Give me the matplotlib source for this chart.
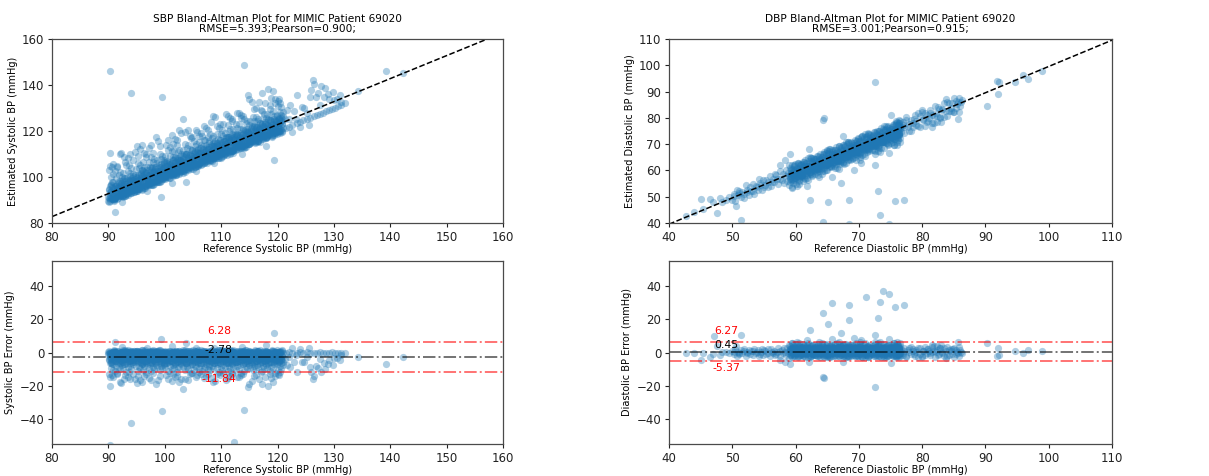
import numpy as np
import matplotlib
matplotlib.use("Agg")
import matplotlib.pyplot as plt

# ---------------- SBP data (reference BP and reference - estimate) ----------------
sbp_core_ref = [
    90.0,90.1,90.3,90.2,90.4,90.1,90.5,90.6,90.8,90.7,90.9,90.6,
    91.0,91.2,91.1,91.3,91.4,91.2,91.5,91.7,91.6,91.8,91.9,91.6,
    92.0,92.1,92.3,92.2,92.4,92.1,92.5,92.6,92.8,92.7,92.9,92.6,
    93.0,93.2,93.1,93.3,93.4,93.2,93.5,93.7,93.6,93.8,93.9,93.6,
    94.0,94.1,94.3,94.2,94.4,94.1,94.5,94.6,94.8,94.7,94.9,94.6,
    95.0,95.2,95.1,95.3,95.4,95.2,95.5,95.7,95.6,95.8,95.9,95.6,
    96.0,96.1,96.3,96.2,96.4,96.1,96.5,96.6,96.8,96.7,96.9,96.6,
    97.0,97.2,97.1,97.3,97.4,97.2,97.5,97.7,97.6,97.8,97.9,97.6,
    98.0,98.1,98.3,98.2,98.4,98.1,98.5,98.6,98.8,98.7,98.9,98.6,
    99.0,99.2,99.1,99.3,99.4,99.2,99.5,99.7,99.6,99.8,99.9,99.6,
    100.0,100.1,100.3,100.2,100.4,100.1,100.5,100.6,100.8,100.7,100.9,100.6,
    101.0,101.2,101.1,101.3,101.4,101.2,101.5,101.7,101.6,101.8,101.9,101.6,
    102.0,102.1,102.3,102.2,102.4,102.1,102.5,102.6,102.8,102.7,102.9,102.6,
    103.0,103.2,103.1,103.3,103.4,103.2,103.5,103.7,103.6,103.8,103.9,103.6,
    104.0,104.1,104.3,104.2,104.4,104.1,104.5,104.6,104.8,104.7,104.9,104.6,
    105.0,105.2,105.1,105.3,105.4,105.2,105.5,105.7,105.6,105.8,105.9,105.6,
    106.0,106.1,106.3,106.2,106.4,106.1,106.5,106.6,106.8,106.7,106.9,106.6,
    107.0,107.2,107.1,107.3,107.4,107.2,107.5,107.7,107.6,107.8,107.9,107.6,
    108.0,108.1,108.3,108.2,108.4,108.1,108.5,108.6,108.8,108.7,108.9,108.6,
    109.0,109.2,109.1,109.3,109.4,109.2,109.5,109.7,109.6,109.8,109.9,109.6,
    110.0,110.1,110.3,110.2,110.4,110.1,110.5,110.6,110.8,110.7,110.9,110.6,
    111.0,111.2,111.1,111.3,111.4,111.2,111.5,111.7,111.6,111.8,111.9,111.6,
    112.0,112.1,112.3,112.2,112.4,112.1,112.5,112.6,112.8,112.7,112.9,112.6,
    113.0,113.2,113.1,113.3,113.4,113.2,113.5,113.7,113.6,113.8,113.9,113.6,
    114.0,114.1,114.3,114.2,114.4,114.1,114.5,114.6,114.8,114.7,114.9,114.6,
    115.0,115.2,115.1,115.3,115.4,115.2,115.5,115.7,115.6,115.8,115.9,115.6,
    116.0,116.1,116.3,116.2,116.4,116.1,116.5,116.6,116.8,116.7,116.9,116.6,
    117.0,117.2,117.1,117.3,117.4,117.2,117.5,117.7,117.6,117.8,117.9,117.6,
    118.0,118.1,118.3,118.2,118.4,118.1,118.5,118.6,118.8,118.7,118.9,118.6,
    119.0,119.2,119.1,119.3,119.4,119.2,119.5,119.7,119.6,119.8,119.9,119.6,
    120.0,120.1,120.3,120.2,120.4,120.1,120.5,120.6,120.8,120.7,120.9,120.6,
]
sbp_core_diff = [
    0.4,-0.6,-3.2,-6.1,-9.5,-12.8,-0.4,-1.8,-4.5,-7.2,-10.3,0.3,
    0.7,0.4,-2.4,-4.9,-8.2,-11.4,-0.1,-1.1,-3.6,-5.8,-8.9,-13.2,
    0.2,-0.2,-2.9,-5.4,-7.6,-10.1,0.6,0.8,-1.6,-4.1,-6.7,-9.3,
    1.4,-1.3,-3.8,-6.4,-9.0,0.6,0.5,-0.7,-2.7,-5.0,-7.9,-11.6,
    0.8,0.1,-2.1,-4.6,-6.9,-9.8,1.2,-1.5,-3.4,-6.0,-8.4,-0.4,
    0.0,-0.9,-3.0,-5.6,-8.6,-11.0,0.6,0.5,-2.3,-4.3,-7.0,-9.6,
    1.5,-1.6,-3.9,-6.3,-8.0,-10.4,0.3,-0.3,-2.6,-5.1,-7.3,-12.0,
    0.6,0.2,-2.0,-4.8,-7.1,-9.2,1.0,-1.2,-3.5,-5.9,-8.7,-10.9,
    0.1,-0.5,-2.8,-5.3,-7.8,-9.9,0.7,0.7,-1.9,-4.0,-6.5,-8.8,
    1.3,-1.4,-3.7,-6.2,-8.3,-10.6,0.4,0.0,-2.5,-4.7,-7.4,-9.4,
    0.8,0.3,-2.2,-4.5,-6.6,-9.0,-0.2,-1.0,-3.3,-5.7,-8.1,-11.3,
    0.2,-0.4,-3.1,-5.0,-7.5,-10.2,0.5,0.6,-1.7,-4.2,-6.8,-9.5,
    -0.4,-1.7,-3.6,-6.0,-8.5,-11.8,0.8,-0.1,-2.4,-4.9,-7.2,-9.0,
    0.4,0.4,-2.0,-4.4,-6.4,-8.6,1.1,-1.3,-3.8,-6.1,-8.9,-10.7,
    0.7,-0.8,-2.9,-5.5,-7.7,-9.7,0.0,0.2,-2.2,-4.6,-6.9,-12.4,
    -0.3,-1.1,-3.4,-5.8,-8.0,-10.5,0.6,0.9,-1.5,-3.9,-6.3,-8.7,
    0.3,0.0,-2.6,-4.7,-7.3,-9.3,1.4,-1.9,-4.0,-6.6,-9.1,-11.1,
    0.8,0.5,-1.8,-4.3,-6.7,-8.9,0.1,-0.6,-3.0,-5.4,-7.9,-10.0,
    -0.1,-1.0,-3.5,-5.9,-8.4,-10.8,0.5,0.3,-2.1,-4.5,-6.6,-9.2,
    0.6,0.1,-2.3,-4.8,-7.0,-9.5,1.3,-1.6,-3.9,-6.2,-8.6,-11.5,
    0.2,-0.3,-2.7,-5.2,-7.6,-10.3,0.7,0.7,-1.4,-3.8,-6.0,-8.5,
    1.5,-1.2,-3.6,-6.1,-8.8,-11.2,0.4,0.0,-2.5,-4.4,-6.9,-9.4,
    0.8,0.6,-1.9,-4.1,-6.5,-8.8,-0.2,-0.9,-3.2,-5.6,-8.2,-10.6,
    0.1,-0.5,-2.8,-5.1,-7.4,-9.9,0.6,0.4,-2.0,-4.7,-7.1,-12.1,
    1.2,-1.5,-3.7,-6.3,-8.9,-10.9,0.3,-0.2,-2.6,-5.0,-7.5,-9.6,
    0.7,0.2,-2.4,-4.6,-6.8,-9.1,-0.4,-1.1,-3.4,-5.8,-8.3,-10.4,
    0.4,-0.7,-3.0,-5.4,-7.8,-10.1,0.8,0.8,-1.6,-4.0,-6.4,-8.7,
    -0.3,-1.3,-3.3,-5.7,-8.1,-11.4,0.2,-0.4,-2.9,-5.3,-7.7,-9.8,
    0.5,0.3,-2.2,-4.4,-6.7,-9.3,-0.1,-1.0,-3.6,-6.0,-8.6,-10.9,
    0.8,-0.1,-2.5,-4.9,-7.2,-9.6,0.1,0.5,-1.8,-4.3,-6.9,-12.5,
    0.0,-0.6,-3.1,-5.5,-8.0,-10.7,0.6,0.1,-2.3,-4.8,-7.3,-9.9,
]
sbp_dense_ref = [
    90.05,90.25,90.15,90.35,90.45,90.25,90.55,90.75,90.65,90.85,90.95,90.75,
    91.05,91.25,91.15,91.35,91.45,91.25,91.55,91.75,91.65,91.85,91.95,91.75,
    92.05,92.25,92.15,92.35,92.45,92.25,92.55,92.75,92.65,92.85,92.95,92.75,
    93.05,93.25,93.15,93.35,93.45,93.25,93.55,93.75,93.65,93.85,93.95,93.75,
    94.05,94.25,94.15,94.35,94.45,94.25,94.55,94.75,94.65,94.85,94.95,94.75,
    95.05,95.25,95.15,95.35,95.45,95.25,95.55,95.75,95.65,95.85,95.95,95.75,
    96.05,96.25,96.15,96.35,96.45,96.25,96.55,96.75,96.65,96.85,96.95,96.75,
    97.05,97.25,97.15,97.35,97.45,97.25,97.55,97.75,97.65,97.85,97.95,97.75,
    98.05,98.25,98.15,98.35,98.45,98.25,98.55,98.75,98.65,98.85,98.95,98.75,
    99.05,99.25,99.15,99.35,99.45,99.25,99.55,99.75,99.65,99.85,99.95,99.75,
    100.05,100.25,100.15,100.35,100.45,100.25,100.55,100.75,100.65,100.85,100.95,100.75,
    101.05,101.25,101.15,101.35,101.45,101.25,101.55,101.75,101.65,101.85,101.95,101.75,
    102.05,102.25,102.15,102.35,102.45,102.25,102.55,102.75,102.65,102.85,102.95,102.75,
    103.05,103.25,103.15,103.35,103.45,103.25,103.55,103.75,103.65,103.85,103.95,103.75,
    104.05,104.25,104.15,104.35,104.45,104.25,104.55,104.75,104.65,104.85,104.95,104.75,
    105.05,105.25,105.15,105.35,105.45,105.25,105.55,105.75,105.65,105.85,105.95,105.75,
    106.05,106.25,106.15,106.35,106.45,106.25,106.55,106.75,106.65,106.85,106.95,106.75,
    107.05,107.25,107.15,107.35,107.45,107.25,107.55,107.75,107.65,107.85,107.95,107.75,
    108.05,108.25,108.15,108.35,108.45,108.25,108.55,108.75,108.65,108.85,108.95,108.75,
    109.05,109.25,109.15,109.35,109.45,109.25,109.55,109.75,109.65,109.85,109.95,109.75,
    110.05,110.25,110.15,110.35,110.45,110.25,110.55,110.75,110.65,110.85,110.95,110.75,
    111.05,111.25,111.15,111.35,111.45,111.25,111.55,111.75,111.65,111.85,111.95,111.75,
    112.05,112.25,112.15,112.35,112.45,112.25,112.55,112.75,112.65,112.85,112.95,112.75,
    113.05,113.25,113.15,113.35,113.45,113.25,113.55,113.75,113.65,113.85,113.95,113.75,
    114.05,114.25,114.15,114.35,114.45,114.25,114.55,114.75,114.65,114.85,114.95,114.75,
    115.05,115.25,115.15,115.35,115.45,115.25,115.55,115.75,115.65,115.85,115.95,115.75,
    116.05,116.25,116.15,116.35,116.45,116.25,116.55,116.75,116.65,116.85,116.95,116.75,
    117.05,117.25,117.15,117.35,117.45,117.25,117.55,117.75,117.65,117.85,117.95,117.75,
    118.05,118.25,118.15,118.35,118.45,118.25,118.55,118.75,118.65,118.85,118.95,118.75,
    119.05,119.25,119.15,119.35,119.45,119.25,119.55,119.75,119.65,119.85,119.95,119.75,
    120.05,120.25,120.15,120.35,120.45,120.25,120.55,120.75,120.65,120.85,120.95,120.75,
]
sbp_dense_diff = [
    0.9,-2.1,-4.2,-0.1,-6.3,-0.9,-3.4,0.3,-5.1,-1.6,0.4,-7.0,
    1.5,-2.7,-5.0,0.1,-3.9,0.2,-1.3,-6.1,0.8,-4.4,-2.2,-0.2,
    -0.5,-0.3,-3.3,-5.8,0.6,-1.9,0.4,-4.0,-2.6,-6.7,1.1,-0.2,
    0.1,-1.0,-3.0,0.4,-5.4,-2.3,1.4,-4.7,-0.6,-6.5,0.5,-3.6,
    0.3,-2.5,-0.4,-4.3,-6.0,-1.2,0.2,-3.1,-0.1,-5.3,1.0,-2.8,
    1.2,-1.7,-4.6,0.7,-3.2,0.4,-0.4,-5.7,-2.0,-0.3,-6.9,-3.8,
    0.5,0.0,-2.4,-4.9,1.3,-1.1,-3.5,0.6,-6.2,-2.7,0.0,-5.0,
    -0.8,-0.1,-3.9,-1.5,0.2,-5.6,0.4,-2.9,-0.3,-4.5,1.4,-6.6,
    1.0,-1.3,-4.1,0.3,-2.6,-6.1,0.5,-3.7,-0.2,-0.7,-5.2,-2.1,
    0.2,-0.2,-3.0,0.9,-5.5,-1.8,-0.4,-4.2,-2.4,-6.8,0.1,-3.3,
    0.6,-2.2,-0.1,-4.4,-0.8,-6.4,0.5,-3.1,-1.4,-5.0,1.2,-2.7,
    -0.3,-0.6,-3.6,0.3,-5.9,-2.0,0.1,-4.6,-1.1,-6.3,0.9,-3.0,
    0.4,0.1,-2.8,-5.2,1.0,-1.5,-3.9,0.5,-6.6,-2.3,-0.4,-4.8,
    -0.3,1.4,-4.0,-1.7,0.2,-5.8,0.2,-3.2,-0.9,-6.2,-0.2,-2.5,
    1.1,-1.9,-3.4,0.0,-5.3,-0.5,0.7,-4.5,-2.6,-6.9,1.5,-3.7,
    0.3,-0.9,-2.5,0.8,-4.8,-1.3,-0.1,-6.0,-3.3,-0.2,0.6,-5.1,
    0.4,-2.4,-0.3,-4.2,-0.7,-6.5,0.2,-3.0,-1.6,-5.4,1.0,-2.9,
    -0.4,-1.4,-3.8,0.6,-5.6,-2.2,0.4,-4.3,-0.4,-6.8,1.2,-3.2,
    0.5,0.2,-2.6,-5.0,1.3,-1.2,-3.6,0.7,-6.3,-2.0,-0.1,-4.6,
    -0.6,-0.2,-4.4,-1.9,0.3,-5.7,0.3,-3.4,-0.8,-6.1,1.5,-2.4,
    1.3,-1.6,-3.1,0.1,-5.2,-0.4,0.8,-4.7,-2.5,-6.6,-0.3,-3.5,
    0.0,-0.7,-2.9,0.5,-4.9,-1.5,1.4,-6.2,-3.8,-0.1,0.5,-5.3,
    0.2,-2.3,1.5,-4.1,-0.9,-6.0,0.4,-3.3,-1.7,-5.5,0.9,-2.8,
    -0.2,-1.1,-3.7,0.8,-5.8,-2.1,0.2,-4.4,-0.3,-6.7,1.1,-3.0,
    0.6,0.4,-2.7,-5.1,1.4,-1.3,-3.5,0.6,-6.4,-2.2,-0.1,-4.7,
    -0.4,-0.4,-4.3,-1.8,0.1,-5.9,0.1,-3.2,-0.7,-6.3,1.3,-2.6,
    1.0,-1.7,-3.3,0.3,-5.4,-0.6,0.9,-4.6,-2.4,-6.8,-0.4,-3.9,
    0.4,-0.8,-2.3,0.7,-4.7,-1.4,-0.2,-6.1,-3.6,-0.2,0.6,-5.2,
    0.5,-2.6,-0.1,-4.0,-0.8,-6.6,0.2,-3.1,-1.5,-5.6,1.1,-2.9,
    1.5,-1.2,-3.9,0.4,-5.7,-2.3,0.5,-4.5,-0.5,-6.5,1.4,-3.4,
    0.2,0.3,-2.5,-5.0,1.2,-1.0,-3.7,0.8,-6.2,-2.1,-0.3,-4.3,
]
sbp_mid_ref = [
    90.02,90.18,90.32,90.48,90.52,90.68,90.82,90.98,
    91.02,91.18,91.32,91.48,91.52,91.68,91.82,91.98,
    92.02,92.18,92.32,92.48,92.52,92.68,92.82,92.98,
    93.02,93.18,93.32,93.48,93.52,93.68,93.82,93.98,
    94.02,94.18,94.32,94.48,94.52,94.68,94.82,94.98,
    95.02,95.18,95.32,95.48,95.52,95.68,95.82,95.98,
    96.02,96.18,96.32,96.48,96.52,96.68,96.82,96.98,
    97.02,97.18,97.32,97.48,97.52,97.68,97.82,97.98,
    98.02,98.18,98.32,98.48,98.52,98.68,98.82,98.98,
    99.02,99.18,99.32,99.48,99.52,99.68,99.82,99.98,
    100.02,100.18,100.32,100.48,100.52,100.68,100.82,100.98,
    101.02,101.18,101.32,101.48,101.52,101.68,101.82,101.98,
    102.02,102.18,102.32,102.48,102.52,102.68,102.82,102.98,
    103.02,103.18,103.32,103.48,103.52,103.68,103.82,103.98,
    104.02,104.18,104.32,104.48,104.52,104.68,104.82,104.98,
    105.02,105.18,105.32,105.48,105.52,105.68,105.82,105.98,
    106.02,106.18,106.32,106.48,106.52,106.68,106.82,106.98,
    107.02,107.18,107.32,107.48,107.52,107.68,107.82,107.98,
    108.02,108.18,108.32,108.48,108.52,108.68,108.82,108.98,
    109.02,109.18,109.32,109.48,109.52,109.68,109.82,109.98,
    110.02,110.18,110.32,110.48,110.52,110.68,110.82,110.98,
    111.02,111.18,111.32,111.48,111.52,111.68,111.82,111.98,
    112.02,112.18,112.32,112.48,112.52,112.68,112.82,112.98,
    113.02,113.18,113.32,113.48,113.52,113.68,113.82,113.98,
    114.02,114.18,114.32,114.48,114.52,114.68,114.82,114.98,
    115.02,115.18,115.32,115.48,115.52,115.68,115.82,115.98,
    116.02,116.18,116.32,116.48,116.52,116.68,116.82,116.98,
    117.02,117.18,117.32,117.48,117.52,117.68,117.82,117.98,
    118.02,118.18,118.32,118.48,118.52,118.68,118.82,118.98,
    119.02,119.18,119.32,119.48,119.52,119.68,119.82,119.98,
    120.02,120.18,120.32,120.48,120.52,120.68,120.82,120.98,
]
sbp_mid_diff = [
    -1.2,-4.8,0.6,-3.1,-5.9,-0.4,-2.3,1.1,
    -3.6,0.2,-5.3,-1.7,0.9,-4.1,-2.8,-6.2,
    0.4,-2.6,-4.5,-0.9,-6.0,1.3,-3.4,-1.5,
    -5.1,-1.4,0.8,-3.8,-2.2,-0.1,-4.9,1.0,
    -2.0,-5.6,-0.6,1.2,-3.3,-4.4,0.3,-1.9,
    0.9,-3.7,-1.1,-5.2,-0.3,-2.5,-6.1,1.4,
    -4.3,-0.8,1.1,-2.9,-5.5,0.1,-1.6,-3.9,
    -1.8,0.7,-3.5,-6.3,-0.5,-4.0,1.2,-2.4,
    0.2,-4.6,-2.1,-0.2,-5.8,-3.2,1.0,-1.3,
    -3.0,1.3,-5.0,-1.6,-3.9,0.5,-6.4,-0.7,
    -0.9,-3.4,0.4,-5.4,-2.0,-4.5,1.1,-1.2,
    -4.9,-1.0,-2.7,1.2,-6.0,-0.3,-3.6,0.6,
    1.0,-2.4,-5.7,-0.6,-3.2,-4.2,0.2,-1.8,
    -3.3,-0.1,-1.4,-5.1,1.4,-2.6,-6.2,-0.8,
    0.5,-4.0,-2.2,-0.4,-5.6,1.0,-3.0,-1.5,
    -1.6,-5.3,0.8,-3.6,-0.7,-2.3,-4.7,1.3,
    -4.4,0.3,-1.8,-6.1,-2.9,1.1,-0.5,-3.4,
    -0.2,-3.0,-5.0,1.2,-1.3,-4.3,0.6,-2.5,
    -2.8,1.0,-0.9,-4.8,-6.2,-1.7,-3.5,0.1,
    0.9,-5.5,-2.4,-0.4,-3.8,1.3,-1.1,-4.6,
    -3.9,-0.6,1.1,-2.1,-5.0,-1.4,0.4,-6.3,
    -1.1,-4.1,-0.2,-5.7,1.2,-2.7,-3.3,0.7,
    0.3,-2.0,-4.9,-1.5,-3.6,0.9,-6.0,-0.8,
    -5.2,-0.9,-2.6,1.0,-4.0,-1.9,0.2,-3.1,
    -1.4,1.3,-3.9,-0.5,-5.4,-2.2,-4.5,0.8,
    0.6,-3.2,-1.0,-6.1,-2.5,0.1,-4.2,-1.6,
    -2.9,-5.0,0.9,-1.3,-3.7,-0.4,1.4,-4.8,
    -0.7,-2.3,-5.6,0.4,-1.8,-4.0,-3.0,1.1,
    1.2,-4.4,-1.5,-3.3,-0.2,-6.0,-2.1,0.5,
    -3.5,-0.8,1.0,-5.2,-2.6,-1.2,0.3,-4.1,
    -1.9,0.6,-4.7,-2.8,-0.5,-3.8,1.3,-5.5,
]
sbp_fringe_ref = [
    90.8,91.6,92.9,93.8,94.4,95.3,96.7,97.5,97.9,99.1,100.6,101.5,102.2,104.1,104.9,
    105.8,106.9,107.7,109.0,109.8,110.4,111.2,112.0,113.1,113.9,115.8,116.7,118.6,119.6,120.3,
    93.1,100.9,106.0,111.9,117.0,
    92.4,96.9,101.3,105.6,108.8,113.7,117.9,
]
sbp_fringe_diff = [
    -14.9,-12.6,-13.7,-16.1,-12.9,-14.0,-13.1,-16.6,-12.4,-14.3,-15.7,-12.8,-13.9,-16.4,-12.5,
    -13.6,-15.1,-12.9,-16.9,-13.3,-12.6,-15.4,-13.0,-14.6,-12.7,-13.9,-16.0,-12.8,-14.4,-13.5,
    -11.9,-12.2,-11.7,-12.3,-12.0,
    3.2,2.9,4.1,3.0,2.7,3.6,4.4,
]
sbp_extra_ref = [
    90.3,90.2,90.6,91.1,92.2,92.0,92.7,93.5,94.0,94.8,95.0,95.6,96.0,96.3,97.2,
    98.5,98.8,99.3,99.6,100.2,101.2,101.8,102.5,102.8,103.3,103.6,103.8,104.5,
    105.5,106.4,107.3,108.2,108.5,109.3,110.8,111.6,112.3,112.8,113.5,114.1,
    114.7,115.0,115.5,116.2,117.3,117.8,118.3,118.9,119.2,119.3,120.1,120.5,90.2,
    121.5,122.0,122.6,123.4,124.0,124.6,125.2,125.8,126.4,127.0,127.5,128.0,
    128.6,129.1,129.6,130.2,130.7,131.2,132.0,
    121.3,121.6,122.0,122.3,122.5,123.0,123.3,123.5,124.0,124.3,124.7,125.3,
    125.6,125.7,126.0,126.3,126.5,126.8,127.2,127.8,127.5,128.3,128.5,128.9,
    129.2,129.8,130.0,130.5,131.0,131.2,134.3,139.2,142.2,
]
sbp_extra_diff = [
    -20.0,-14.5,-13.8,6.2,-18.2,-18.0,-15.8,-14.6,-42.6,-16.0,-18.3,-16.4,-18.0,-14.2,-15.2,
    -19.0,-16.8,8.1,-35.0,-13.5,-17.0,-14.6,-18.0,-16.2,-22.0,-15.9,6.0,-13.2,
    -14.8,-12.7,-14.1,-15.6,-18.0,-13.0,-16.5,-14.0,-53.5,-15.0,-13.4,-34.5,
    -21.0,-19.0,-17.2,-13.8,-19.2,-14.5,-20.0,-15.3,-18.0,11.7,-13.0,-11.8,-55.8,
    0.0,0.2,0.0,-0.2,0.1,0.0,0.2,0.0,-0.1,0.0,0.1,0.0,
    -0.2,0.0,0.1,0.0,-0.3,0.0,0.0,
    -4.0,-7.5,-3.0,-9.0,3.0,-5.5,-1.8,-12.0,2.2,-6.0,-5.5,-2.5,
    3.0,-9.0,-12.0,-16.0,-14.0,-8.0,-9.3,-11.7,-4.0,-6.5,-10.0,-7.2,
    -4.8,-7.3,-3.5,-3.5,-4.5,-1.5,-3.0,-6.9,-3.0,
]
sbp_mean, sbp_upper, sbp_lower = -2.78, 6.28, -11.84
sbp_title = "SBP Bland-Altman Plot for MIMIC Patient 69020\nRMSE=5.393;Pearson=0.900;"

# ---------------- DBP data ----------------
dbp_core_ref = [
    59.0,59.1,59.3,59.2,59.4,59.1,59.5,59.6,59.8,59.7,59.9,59.6,
    60.0,60.2,60.1,60.3,60.4,60.2,60.5,60.7,60.6,60.8,60.9,60.6,
    61.0,61.1,61.3,61.2,61.4,61.1,61.5,61.6,61.8,61.7,61.9,61.6,
    62.0,62.2,62.1,62.3,62.4,62.2,62.5,62.7,62.6,62.8,62.9,62.6,
    63.0,63.1,63.3,63.2,63.4,63.1,63.5,63.6,63.8,63.7,63.9,63.6,
    64.0,64.2,64.1,64.3,64.4,64.2,64.5,64.7,64.6,64.8,64.9,64.6,
    65.0,65.1,65.3,65.2,65.4,65.1,65.5,65.6,65.8,65.7,65.9,65.6,
    66.0,66.2,66.1,66.3,66.4,66.2,66.5,66.7,66.6,66.8,66.9,66.6,
    67.0,67.1,67.3,67.2,67.4,67.1,67.5,67.6,67.8,67.7,67.9,67.6,
    68.0,68.2,68.1,68.3,68.4,68.2,68.5,68.7,68.6,68.8,68.9,68.6,
    69.0,69.1,69.3,69.2,69.4,69.1,69.5,69.6,69.8,69.7,69.9,69.6,
    70.0,70.2,70.1,70.3,70.4,70.2,70.5,70.7,70.6,70.8,70.9,70.6,
    71.0,71.1,71.3,71.2,71.4,71.1,71.5,71.6,71.8,71.7,71.9,71.6,
    72.0,72.2,72.1,72.3,72.4,72.2,72.5,72.7,72.6,72.8,72.9,72.6,
    73.0,73.1,73.3,73.2,73.4,73.1,73.5,73.6,73.8,73.7,73.9,73.6,
    74.0,74.2,74.1,74.3,74.4,74.2,74.5,74.7,74.6,74.8,74.9,74.6,
    75.0,75.1,75.3,75.2,75.4,75.1,75.5,75.6,75.8,75.7,75.9,75.6,
    76.0,76.1,76.3,76.2,76.4,76.1,76.5,76.3,76.2,76.4,76.0,76.5,
]
dbp_core_diff = [
    4.6,2.3,0.5,-1.4,2.7,0.8,5.8,3.1,1.2,-0.6,-2.4,1.9,
    5.1,2.8,0.9,-0.8,-2.6,1.6,4.2,1.9,0.1,-1.7,2.5,5.9,
    3.6,1.4,-0.3,-2.0,2.1,5.3,4.7,2.5,0.7,-1.1,-2.9,1.4,
    5.5,3.0,1.1,-0.5,-2.2,2.0,3.9,1.6,-0.1,-1.8,2.4,4.4,
    4.3,2.1,0.3,-1.3,2.9,1.2,5.2,2.9,1.0,-0.7,-2.5,2.2,
    3.4,1.3,-0.4,-2.1,2.1,5.6,4.9,2.6,0.8,-0.9,-2.7,1.7,
    5.0,2.7,0.6,-1.0,-2.8,1.5,3.7,1.5,-0.2,-1.9,2.6,4.1,
    4.5,2.2,0.4,-1.5,2.8,5.4,5.7,3.2,1.3,-0.4,-2.3,2.0,
    3.8,1.7,0.0,-1.6,3.0,1.3,4.8,2.4,0.6,-1.2,-2.9,5.1,
    5.3,3.1,1.2,-0.3,-2.0,2.3,4.0,1.8,-0.1,-2.2,2.1,4.6,
    4.4,2.0,0.2,-1.4,2.7,1.6,5.5,3.4,1.4,-0.5,-2.4,2.5,
    3.5,1.1,-0.6,-2.3,1.9,5.0,4.7,2.7,0.9,-1.0,-2.8,1.4,
    5.6,3.3,1.0,-0.8,-2.5,1.8,3.9,1.6,0.1,-1.7,2.5,4.3,
    4.1,2.0,0.3,-1.2,3.0,1.1,5.2,2.9,1.1,-0.6,-2.1,2.2,
    3.7,1.5,-0.2,-1.9,2.3,5.7,4.9,2.6,0.7,-1.1,-2.9,1.6,
    5.4,3.2,1.3,-0.4,-2.3,2.0,4.2,2.1,0.4,-1.5,2.8,4.8,
    4.5,2.3,0.5,-1.3,3.0,1.4,5.8,3.5,1.5,-0.2,-2.0,2.4,
    5.0,2.8,0.8,-0.9,-2.6,1.7,4.1,1.9,0.2,-1.6,2.6,5.5,
]
dbp_dense_ref = [
    59.05,59.25,59.15,59.35,59.45,59.25,59.55,59.75,59.65,59.85,59.95,59.75,
    60.05,60.25,60.15,60.35,60.45,60.25,60.55,60.75,60.65,60.85,60.95,60.75,
    61.05,61.25,61.15,61.35,61.45,61.25,61.55,61.75,61.65,61.85,61.95,61.75,
    62.05,62.25,62.15,62.35,62.45,62.25,62.55,62.75,62.65,62.85,62.95,62.75,
    63.05,63.25,63.15,63.35,63.45,63.25,63.55,63.75,63.65,63.85,63.95,63.75,
    64.05,64.25,64.15,64.35,64.45,64.25,64.55,64.75,64.65,64.85,64.95,64.75,
    65.05,65.25,65.15,65.35,65.45,65.25,65.55,65.75,65.65,65.85,65.95,65.75,
    66.05,66.25,66.15,66.35,66.45,66.25,66.55,66.75,66.65,66.85,66.95,66.75,
    67.05,67.25,67.15,67.35,67.45,67.25,67.55,67.75,67.65,67.85,67.95,67.75,
    68.05,68.25,68.15,68.35,68.45,68.25,68.55,68.75,68.65,68.85,68.95,68.75,
    69.05,69.25,69.15,69.35,69.45,69.25,69.55,69.75,69.65,69.85,69.95,69.75,
    70.05,70.25,70.15,70.35,70.45,70.25,70.55,70.75,70.65,70.85,70.95,70.75,
    71.05,71.25,71.15,71.35,71.45,71.25,71.55,71.75,71.65,71.85,71.95,71.75,
    72.05,72.25,72.15,72.35,72.45,72.25,72.55,72.75,72.65,72.85,72.95,72.75,
    73.05,73.25,73.15,73.35,73.45,73.25,73.55,73.75,73.65,73.85,73.95,73.75,
    74.05,74.25,74.15,74.35,74.45,74.25,74.55,74.75,74.65,74.85,74.95,74.75,
    75.05,75.25,75.15,75.35,75.45,75.25,75.55,75.75,75.65,75.85,75.95,75.75,
    76.05,76.25,76.15,76.35,76.45,76.25,76.05,76.35,76.15,76.45,76.25,76.4,
]
dbp_dense_diff = [
    2.0,-0.9,3.7,0.3,-2.7,1.5,4.4,-1.8,0.9,2.8,2.8,-0.2,
    1.2,3.6,-0.5,2.4,-2.3,0.6,4.6,-1.3,1.9,3.0,3.1,0.0,
    2.7,-1.1,0.8,4.1,-2.6,1.7,-0.3,3.4,2.7,2.1,0.4,4.7,
    0.5,2.9,-1.6,3.8,1.2,-2.9,4.5,0.1,-0.8,2.3,2.6,1.6,
    3.3,-0.4,1.8,-2.2,4.2,0.7,2.6,-1.5,3.9,2.9,1.1,-0.1,
    1.9,4.4,-0.9,2.2,-2.5,0.4,3.5,-1.7,1.3,4.8,3.0,2.8,
    0.2,2.5,-1.4,3.9,1.0,-2.8,4.3,-0.6,2.0,2.6,3.0,0.8,
    2.9,-0.2,1.5,-2.4,4.0,0.6,-1.2,3.3,2.9,1.9,4.6,0.1,
    1.4,3.7,-0.7,2.3,-2.1,0.9,4.5,-1.6,2.7,2.7,1.1,3.4,
    0.6,2.8,-1.9,4.3,1.6,-2.7,3.5,-0.3,2.1,2.5,4.7,0.2,
    3.1,-0.6,1.2,-2.3,4.4,0.4,2.5,-1.4,3.8,3.0,1.7,-0.1,
    2.2,4.1,-1.0,0.9,-2.6,3.3,0.1,-1.8,2.7,4.6,2.8,1.5,
    0.8,3.0,-1.5,2.1,-2.9,4.2,1.3,-0.4,3.6,2.6,2.4,0.0,
    2.6,-0.8,1.0,4.5,-2.2,0.5,3.2,-1.3,2.0,2.9,4.0,1.4,
    1.1,3.5,-0.3,2.4,-2.7,4.7,0.7,-1.9,3.0,2.7,1.6,2.9,
    0.4,2.7,-1.2,3.9,1.5,-2.5,4.4,-0.5,2.2,2.5,3.1,0.9,
    3.4,-0.7,1.8,-2.0,4.6,0.3,2.5,-1.5,3.7,-2.9,1.2,-0.2,
    1.7,4.0,-0.9,2.6,-2.4,0.6,3.3,-1.6,4.5,0.0,2.9,2.2,
]
dbp_mid_ref = [
    59.02,59.18,59.32,59.48,59.52,59.68,59.82,59.98,
    60.02,60.18,60.32,60.48,60.52,60.68,60.82,60.98,
    61.02,61.18,61.32,61.48,61.52,61.68,61.82,61.98,
    62.02,62.18,62.32,62.48,62.52,62.68,62.82,62.98,
    63.02,63.18,63.32,63.48,63.52,63.68,63.82,63.98,
    64.02,64.18,64.32,64.48,64.52,64.68,64.82,64.98,
    65.02,65.18,65.32,65.48,65.52,65.68,65.82,65.98,
    66.02,66.18,66.32,66.48,66.52,66.68,66.82,66.98,
    67.02,67.18,67.32,67.48,67.52,67.68,67.82,67.98,
    68.02,68.18,68.32,68.48,68.52,68.68,68.82,68.98,
    69.02,69.18,69.32,69.48,69.52,69.68,69.82,69.98,
    70.02,70.18,70.32,70.48,70.52,70.68,70.82,70.98,
    71.02,71.18,71.32,71.48,71.52,71.68,71.82,71.98,
    72.02,72.18,72.32,72.48,72.52,72.68,72.82,72.98,
    73.02,73.18,73.32,73.48,73.52,73.68,73.82,73.98,
    74.02,74.18,74.32,74.48,74.52,74.68,74.82,74.98,
    75.02,75.18,75.32,75.48,75.52,75.68,75.82,75.98,
    76.02,76.18,76.32,76.48,76.1,76.4,76.26,76.44,
]
dbp_mid_diff = [
    1.0,-1.8,2.9,0.1,-0.9,3.3,-2.2,1.8,
    -0.6,2.2,0.7,-2.0,3.1,1.4,-1.1,0.3,
    2.6,-0.3,-1.9,1.2,3.4,-1.0,0.5,2.0,
    0.2,1.7,3.0,-2.3,0.9,-0.7,2.5,-1.5,
    -1.3,3.2,0.4,1.9,-2.1,2.7,-0.2,1.1,
    2.1,-0.9,1.5,3.3,-1.7,0.0,2.8,-2.4,
    0.8,2.9,-2.2,0.3,1.8,-1.2,3.4,-0.4,
    -1.9,1.0,2.4,-0.6,3.0,0.5,-2.3,1.6,
    3.1,-1.4,0.6,2.0,-0.2,-2.0,1.3,2.7,
    0.0,2.3,-2.4,1.5,3.2,-0.8,0.7,-1.6,
    1.7,-0.5,3.0,-1.9,0.4,2.5,-2.2,1.1,
    -1.1,3.4,0.9,2.1,-2.5,1.4,-0.1,2.9,
    2.4,0.2,-1.6,3.1,0.8,-2.1,1.9,-0.7,
    -0.4,1.6,2.8,-2.3,0.5,3.3,-1.2,1.0,
    1.3,-2.0,0.3,2.6,-0.9,1.8,3.0,-1.5,
    3.2,0.7,-1.3,1.1,2.3,-2.4,0.0,2.0,
    -0.8,2.6,1.4,-2.1,3.4,0.2,-1.4,1.7,
    1.5,-1.0,2.8,0.4,-2.2,3.1,1.0,-0.3,
]
dbp_side_ref = [
    50.0,50.2,50.5,50.7,50.9,51.1,51.4,51.6,51.9,52.1,52.3,52.6,52.8,
    53.0,53.3,53.5,53.8,54.0,54.2,54.5,54.7,54.9,55.2,55.4,55.7,55.9,
    56.1,56.4,56.6,56.8,57.0,57.3,57.5,57.8,58.0,58.2,58.5,58.7,58.9,
    50.3,51.0,51.8,52.4,53.2,53.9,54.4,55.0,55.6,56.3,56.9,57.6,58.4,58.8,
    76.7,76.9,77.2,77.5,77.8,78.0,78.3,78.5,78.8,79.1,79.4,79.7,
    80.0,80.2,80.5,80.8,81.0,81.3,81.6,81.9,82.1,82.3,82.6,82.9,83.2,83.5,83.8,
    84.0,84.3,84.5,84.8,85.0,85.3,85.6,85.9,86.2,
    77.0,78.6,79.9,81.1,82.4,83.7,84.6,85.4,
    76.6,77.1,77.4,77.9,78.2,78.7,79.0,79.3,79.6,80.1,80.4,80.7,81.2,81.5,
    81.8,82.2,82.5,82.8,83.1,83.4,83.9,84.2,84.7,85.1,85.5,85.8,86.0,86.3,
]
dbp_side_diff = [
    1.2,-0.8,2.0,-1.9,0.3,-1.2,1.6,-0.2,2.3,-2.2,0.6,1.8,-1.0,
    0.9,-1.6,2.4,-0.4,1.5,-2.4,0.1,2.1,-1.3,0.7,-0.9,1.9,-2.0,
    2.2,-0.5,1.0,-1.7,0.4,2.6,-2.3,1.3,-0.6,3.0,-1.8,2.7,-3.2,
    0.2,-0.4,0.8,-0.2,1.1,0.3,-0.7,1.4,0.0,0.6,-1.2,1.0,0.4,-0.3,
    2.1,-1.5,0.8,-2.8,1.4,3.0,-0.7,1.9,-2.2,0.4,2.6,-1.1,
    -3.0,1.2,3.5,-0.3,2.2,-1.8,0.6,3.8,-2.5,1.6,-0.9,2.9,0.2,-2.0,1.1,
    3.3,-1.4,0.9,2.4,-2.6,1.7,-0.5,3.6,0.3,
    -0.4,0.7,-2.3,1.0,3.9,-3.4,2.0,-1.2,
    0.5,2.7,-1.9,0.2,3.2,-0.9,1.6,-2.6,2.9,0.7,-1.3,2.3,-0.6,3.4,
    1.0,0.4,-1.7,2.6,-0.2,3.0,-2.2,1.5,-0.8,2.8,0.1,-1.9,1.3,-0.4,
]
dbp_extra_ref = [
    42.7,44.0,45.0,45.3,46.5,47.1,47.0,47.6,48.0,48.3,49.0,49.5,51.4,50.6,
    90.3,91.8,92.0,92.2,94.7,96.0,96.7,99.0,
    62.3,64.3,65.1,65.7,67.1,68.4,68.5,71.1,72.5,73.0,73.3,73.8,74.8,75.7,77.2,
    64.3,64.5,72.6,59.1,61.8,65.8,69.3,70.3,74.8,76.0,67.5,75.0,62.2,72.6,
    57.6,58.3,59.4,85.6,81.5,83.0,
    60.3,63.7,66.9,70.2,73.4,75.6,
]
dbp_extra_diff = [
    0.0,0.0,-4.3,-0.2,-2.5,9.8,-1.0,3.8,-1.5,0.5,0.2,-0.5,10.4,4.2,
    5.9,-2.3,3.0,-1.5,1.0,-0.2,1.8,1.0,
    13.7,23.8,17.0,29.8,12.0,28.7,19.8,33.5,10.5,21.0,30.3,36.8,35.3,27.5,28.5,
    -15.0,-15.3,-21.0,-7.0,7.8,8.2,9.0,7.5,8.0,6.5,-5.5,-6.2,-5.8,6.3,
    -4.5,-5.5,6.0,6.1,4.8,4.5,
    6.3,6.1,6.4,6.2,6.5,6.0,
]
dbp_mean, dbp_upper, dbp_lower = 0.45, 6.27, -5.37
dbp_title = "DBP Bland-Altman Plot for MIMIC Patient 69020\nRMSE=3.001;Pearson=0.915;"


# ---------------- assemble ----------------
def join(*pairs):
    refs, diffs = [], []
    for r, d in pairs:
        n = min(len(r), len(d))
        refs += list(r[:n])
        diffs += list(d[:n])
    return np.array(refs), np.array(diffs)


sbp_ref, sbp_diff = join((sbp_core_ref, sbp_core_diff), (sbp_dense_ref, sbp_dense_diff),
                         (sbp_mid_ref, sbp_mid_diff), (sbp_fringe_ref, sbp_fringe_diff),
                         (sbp_extra_ref, sbp_extra_diff))
sbp_est = sbp_ref - sbp_diff
dbp_ref, dbp_diff = join((dbp_core_ref, dbp_core_diff), (dbp_dense_ref, dbp_dense_diff),
                         (dbp_mid_ref, dbp_mid_diff), (dbp_side_ref, dbp_side_diff),
                         (dbp_extra_ref, dbp_extra_diff))
dbp_est = dbp_ref - dbp_diff

W, H = 1209, 476
fig = plt.figure(figsize=(W / 100, H / 100), dpi=100)


def px_axes(x0, y0, x1, y1):
    return fig.add_axes([x0 / W, 1 - y1 / H, (x1 - x0) / W, (y1 - y0) / H])


ax_s_top = px_axes(52, 39, 503, 223)
ax_s_bot = px_axes(52, 261, 503, 444)
ax_d_top = px_axes(669, 39, 1112, 223)
ax_d_bot = px_axes(669, 261, 1112, 444)

blue = "#1f77b4"
sc_kw = dict(s=27, alpha=0.36, color=blue, linewidths=0)
TICK_FS = 8.5
LABEL_FS = 7.0
TITLE_FS = 7.6
TXT_FS = 7.8


def style(ax):
    for sp in ax.spines.values():
        sp.set_color("#4a4a4a")
        sp.set_linewidth(0.9)
    ax.tick_params(labelsize=TICK_FS, colors="#222222", length=3, width=0.8, pad=2.5)


def top_panel(ax, ref, est, mean, lim, ticks, title, kind):
    ax.scatter(ref, est, **sc_kw)
    xs = np.array(lim[:2])
    ax.plot(xs, xs - mean, "k--", lw=1.1)
    ax.set_xlim(lim[0], lim[1])
    ax.set_ylim(lim[2], lim[3])
    ax.set_xticks(ticks[0])
    ax.set_yticks(ticks[1])
    ax.set_xlabel(f"Reference {kind} BP (mmHg)", fontsize=LABEL_FS, labelpad=0)
    ax.set_ylabel(f"Estimated {kind} BP (mmHg)", fontsize=LABEL_FS, labelpad=3)
    ax.set_title(title, fontsize=TITLE_FS, pad=5, linespacing=1.05)
    style(ax)


def bot_panel(ax, ref, diff, mean, up, lo, xlim, xticks, text_x, kind):
    ax.scatter(ref, diff, **sc_kw)
    ax.axhline(mean, color="k", alpha=0.55, ls="-.", lw=1.4)
    ax.axhline(up, color="red", alpha=0.55, ls="-.", lw=1.4)
    ax.axhline(lo, color="red", alpha=0.55, ls="-.", lw=1.4)
    ax.text(text_x, up + 4.8, f"{up:.2f}", color="red", ha="center", va="baseline", fontsize=TXT_FS)
    ax.text(text_x, mean + 2.4, f"{mean:.2f}", color="black", ha="center", va="baseline", fontsize=TXT_FS)
    ax.text(text_x, lo - 5.7, f"{lo:.2f}", color="red", ha="center", va="baseline", fontsize=TXT_FS)
    ax.set_xlim(*xlim)
    ax.set_ylim(-55, 55)
    ax.set_xticks(xticks)
    ax.set_yticks([-40, -20, 0, 20, 40])
    ax.set_xlabel(f"Reference {kind} BP (mmHg)", fontsize=LABEL_FS, labelpad=0)
    ax.set_ylabel(f"{kind} BP Error (mmHg)", fontsize=LABEL_FS, labelpad=3)
    style(ax)


top_panel(ax_s_top, sbp_ref, sbp_est, sbp_mean, (80, 160, 80, 160),
          (range(80, 161, 10), range(80, 161, 20)), sbp_title, "Systolic")
bot_panel(ax_s_bot, sbp_ref, sbp_diff, sbp_mean, sbp_upper, sbp_lower,
          (80, 160), range(80, 161, 10), 109.6, "Systolic")
top_panel(ax_d_top, dbp_ref, dbp_est, dbp_mean, (40, 110, 40, 110),
          (range(40, 111, 10), range(40, 111, 10)), dbp_title, "Diastolic")
bot_panel(ax_d_bot, dbp_ref, dbp_diff, dbp_mean, dbp_upper, dbp_lower,
          (40, 110), range(40, 111, 10), 49.1, "Diastolic")

fig.savefig("out.png", dpi=100, facecolor="white")
